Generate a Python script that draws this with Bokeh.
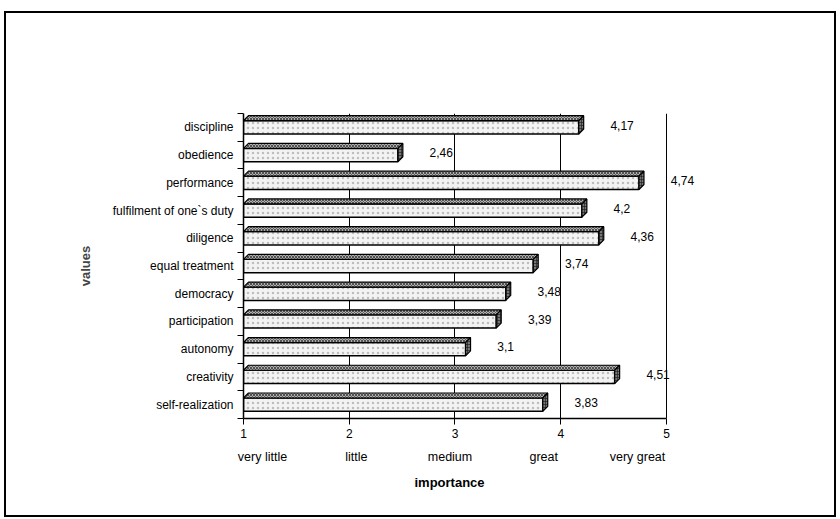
from bokeh.plotting import figure
from bokeh.models import (ColumnDataSource, FixedTicker, LinearAxis, Range1d,
                          LabelSet, Title)
from bokeh.core.properties import value
from bokeh.embed import file_html
from bokeh.resources import INLINE

# ---- data ----
categories = ["discipline", "obedience", "performance", "fulfilment of one`s duty",
              "diligence", "equal treatment", "democracy", "participation",
              "autonomy", "creativity", "self-realization"]
values = [4.17, 2.46, 4.74, 4.2, 4.36, 3.74, 3.48, 3.39, 3.1, 4.51, 3.83]
x_ticks = [1, 2, 3, 4, 5]
scale_labels = ["very little", "little", "medium", "great", "very great"]

FONT = "Liberation Sans"
n = len(categories)
# y position: first category at top
centers = [n - 1 - i + 0.5 for i in range(n)]
boundaries = list(range(0, n + 1))

half = 0.24      # half height of bar front face (data units)
dx = 0.047       # depth of 3D effect in x (data units)
dy = 0.18        # depth in y (data units)

frame_bg = ("linear-gradient(#000,#000) 4px 11px / 832px 2px no-repeat, "
            "linear-gradient(#000,#000) 4px 515px / 832px 2px no-repeat, "
            "linear-gradient(#000,#000) 4px 11px / 2px 506px no-repeat, "
            "linear-gradient(#000,#000) 834px 11px / 2px 506px no-repeat, white")

p = figure(width=840, height=519, output_backend="svg", toolbar_location=None,
           x_range=Range1d(1, 5.35), y_range=Range1d(0, n),
           min_border_left=243, min_border_right=137, min_border_top=113,
           min_border_bottom=101, x_axis_location=None, y_axis_location=None,
           styles={"background": frame_bg})
p.outline_line_color = None
p.background_fill_color = None
p.border_fill_color = None

# grid
p.xgrid.ticker = FixedTicker(ticks=[2, 3, 4, 5])
p.xgrid.grid_line_color = "black"
p.xgrid.grid_line_width = 1
p.ygrid.visible = False

# bars: front face
bottoms = [c - half for c in centers]
tops = [c + half for c in centers]
front = ColumnDataSource(dict(left=[1] * n, right=values, bottom=bottoms, top=tops))
p.quad(left="left", right="right", bottom="bottom", top="top", source=front,
       fill_color="#f3f3f3", line_color="black", line_width=1.5,
       hatch_pattern="dot", hatch_scale=5, hatch_color="#9a9a9a", hatch_alpha=0.6)

# top face
top_xs = [[1, 1 + dx, v + dx, v] for v in values]
top_ys = [[t, t + dy, t + dy, t] for t in tops]
p.patches(top_xs, top_ys, fill_color="#b0b0b0", line_color="black", line_width=1.2,
          hatch_pattern="x", hatch_scale=3, hatch_color="#333333", hatch_alpha=0.75)

# end face
end_xs = [[v, v, v + dx, v + dx] for v in values]
end_ys = [[b, t, t + dy, b + dy] for b, t in zip(bottoms, tops)]
p.patches(end_xs, end_ys, fill_color="#777777", line_color="black", line_width=1.2,
          hatch_pattern="cross", hatch_scale=3, hatch_color="#222222", hatch_alpha=0.7)

# value labels
lab = ColumnDataSource(dict(x=[v + 0.3 for v in values], y=[c + 0.08 for c in centers],
                            text=[str(v).replace(".", ",") for v in values]))
p.add_layout(LabelSet(x="x", y="y", text="text", source=lab, text_font=value(FONT),
                      text_font_size="12px", text_align="left", text_baseline="middle",
                      text_color="black"))

# left axis
yaxis = LinearAxis(ticker=FixedTicker(ticks=centers, minor_ticks=boundaries),
                   major_label_overrides={c: name for c, name in zip(centers, categories)},
                   axis_label="values")
yaxis.axis_line_width = 1.5
yaxis.major_tick_line_color = None
yaxis.major_tick_out = 6
yaxis.major_tick_in = 0
yaxis.minor_tick_out = 6
yaxis.minor_tick_in = 0
yaxis.minor_tick_line_width = 1.2
yaxis.major_label_standoff = 4
yaxis.major_label_text_font = FONT
yaxis.major_label_text_font_size = "12px"
yaxis.major_label_text_color = "black"
yaxis.axis_label_text_font = FONT
yaxis.axis_label_text_font_size = "13px"
yaxis.axis_label_text_font_style = "bold"
yaxis.axis_label_standoff = 17
p.add_layout(yaxis, "left")

# bottom numeric axis
xaxis = LinearAxis(ticker=FixedTicker(ticks=x_ticks), bounds=(1, 5))
xaxis.axis_line_width = 1.5
xaxis.major_tick_out = 6
xaxis.major_tick_in = 0
xaxis.minor_tick_line_color = None
xaxis.major_label_standoff = 4
xaxis.major_label_text_font = FONT
xaxis.major_label_text_font_size = "12px"
xaxis.major_label_text_color = "black"
p.add_layout(xaxis, "below")

# bottom verbal scale axis
p.extra_x_ranges = {"scale": Range1d(0.797, 5.704)}
saxis = LinearAxis(x_range_name="scale", ticker=FixedTicker(ticks=x_ticks),
                   major_label_overrides={t: s for t, s in zip(x_ticks, scale_labels)})
saxis.axis_line_color = None
saxis.major_tick_line_color = None
saxis.minor_tick_line_color = None
saxis.major_tick_out = 0
saxis.major_label_standoff = 9
saxis.major_label_text_font = FONT
saxis.major_label_text_font_size = "12.5px"
saxis.major_label_text_color = "black"
p.add_layout(saxis, "below")

# x axis title, centred under the 1..5 scale
p.add_layout(Title(text="importance", align="left", offset=171, standoff=13,
                   text_font=FONT, text_font_size="13px", text_font_style="bold",
                   text_color="black"), "below")

open("out.html", "w").write(file_html(p, INLINE))
